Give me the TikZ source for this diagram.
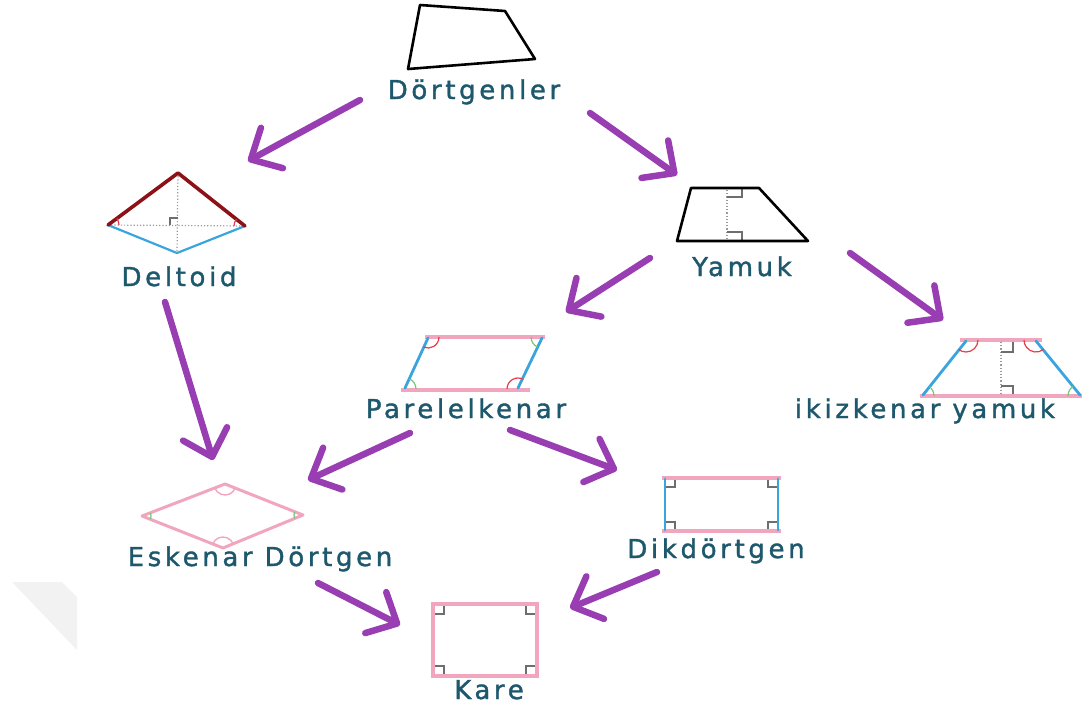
\documentclass[tikz,border=0pt]{standalone}
\usepackage{fontspec}
\newfontfamily\labfont[LetterSpace=14,FakeBold=1.4]{DejaVu Sans}
\usetikzlibrary{arrows.meta}
\definecolor{txt}{RGB}{30,88,108}
\definecolor{arr}{RGB}{152,62,178}
\definecolor{pinkl}{RGB}{242,166,190}
\definecolor{bluel}{RGB}{58,164,222}
\definecolor{dred}{RGB}{140,18,24}
\definecolor{greenl}{RGB}{120,196,120}
\definecolor{redarc}{RGB}{228,60,72}
\definecolor{markg}{RGB}{110,110,110}
\tikzset{
  lab/.style={font=\labfont\fontsize{26}{29}\selectfont, text=txt, anchor=base, inner sep=0pt},
  flow/.style={draw=arr, line width=6.5pt, line cap=round, line join=round,
    -{Straight Barb[length=24pt,width=46pt,line cap=round,line join=round]}},
  blk/.style={draw=black, line width=2.6pt, line join=round},
  pinkedge/.style={draw=pinkl, line width=3.8pt},
  blueedge/.style={draw=bluel, line width=2.8pt, line cap=round},
  dots/.style={draw=gray!80, line width=1.2pt, dotted},
  rmark/.style={draw=markg, line width=1.1pt},
  arcr/.style={draw=redarc, line width=1.2pt},
  arcg/.style={draw=greenl, line width=1.2pt},
}
\begin{document}
\begin{tikzpicture}[x=1pt,y=-1pt]
\useasboundingbox (0,0) rectangle (1089,713);
% faint corner mark
\fill[gray!10] (12,582) -- (62,582) -- (77,597) -- (77,650) -- cycle;

% ---- Dortgenler
\draw[blk] (420,5) -- (505,11) -- (535,59) -- (408,69) -- cycle;
\node[lab] (dortgenler) at (474,99) {Dörtgenler};

% ---- Deltoid
\draw[dots] (178,173) -- (177,253);
\draw[dots] (108,225) -- (245,226);
\draw[rmark] (170,225) -- (170,218) -- (178,218);
\draw[draw=bluel, line width=2.2pt, line join=round] (108,225) -- (177,253) -- (245,226);
\draw[draw=dred, line width=3.6pt, line cap=round, line join=round] (108,225) -- (178,173) -- (245,226);
\draw[arcr] (108,225) ++(-36.6:11) arc[start angle=-36.6, end angle=0, radius=11];
\draw[arcr] (245,226) ++(180:11) arc[start angle=180, end angle=218.4, radius=11];
\node[lab] (deltoid) at (179,286) {Deltoid};

% ---- Yamuk
\draw[dots] (727,190) -- (727,240);
\draw[rmark] (727,197) -- (742,197) -- (742,188);
\draw[rmark] (727,232) -- (742,232) -- (742,241);
\draw[blk] (691,188) -- (759,188) -- (808,241) -- (677,241) -- cycle;
\node[lab] (yamuk) at (742,276) {Yamuk};

% ---- Parelelkenar
\draw[pinkedge] (425,337) -- (545,337);
\draw[pinkedge] (401,390) -- (530,390);
\draw[blueedge] (428,338) -- (405,388);
\draw[blueedge] (542,338) -- (518,388);
\draw[arcr] (428,337) ++(0:11) arc[start angle=0, end angle=113.9, radius=11];
\draw[arcg] (542,337) ++(114.8:11) arc[start angle=114.8, end angle=180, radius=11];
\draw[arcr] (518,389) ++(180:11) arc[start angle=180, end angle=294.8, radius=11];
\draw[arcg] (405,389) ++(-66.1:11) arc[start angle=-66.1, end angle=0, radius=11];
\node[lab] (parelelkenar) at (466,418) {Parelelkenar};

% ---- ikizkenar yamuk
\draw[dots] (1001,342) -- (1001,394);
\draw[rmark] (1001,352) -- (1013,352) -- (1013,340);
\draw[rmark] (1001,386) -- (1013,386) -- (1013,396);
\draw[pinkedge] (960,340) -- (1042,340);
\draw[pinkedge] (920,396) -- (1082,396);
\draw[blueedge] (966,341) -- (923,395);
\draw[blueedge] (1036,341) -- (1080,395);
\draw[arcr] (966,340) ++(0:12) arc[start angle=0, end angle=128.2, radius=12];
\draw[arcr] (1036,340) ++(51.8:12) arc[start angle=51.8, end angle=180, radius=12];
\draw[arcg] (922,396) ++(-51.8:12) arc[start angle=-51.8, end angle=0, radius=12];
\draw[arcg] (1080,396) ++(180:12) arc[start angle=180, end angle=231.8, radius=12];
\node[lab] (ikizkenar) at (925,418) {ikizkenar yamuk};

% ---- Eskenar Dortgen
\draw[draw=pinkl, line width=3pt, line join=round] (225,484) -- (303,515) -- (223,548) -- (142,516) -- cycle;
\draw[draw=pinkl, line width=1.4pt] (225,484) ++(21.7:11) arc[start angle=21.7, end angle=158.9, radius=11];
\draw[draw=pinkl, line width=1.4pt] (223,548) ++(201.6:11) arc[start angle=201.6, end angle=337.6, radius=11];
\draw[arcg] (142,516) ++(-21.1:9) arc[start angle=-21.1, end angle=21.6, radius=9];
\draw[arcg] (303,515) ++(157.6:9) arc[start angle=157.6, end angle=201.7, radius=9];
\node[lab] (eskenar) at (260,566) {Eskenar Dörtgen};

% ---- Dikdortgen
\draw[rmark] (665,487) -- (675,487) -- (675,478);
\draw[rmark] (778,487) -- (768,487) -- (768,478);
\draw[rmark] (665,522) -- (675,522) -- (675,531);
\draw[rmark] (778,522) -- (768,522) -- (768,531);
\draw[pinkedge] (662,478) -- (781,478);
\draw[pinkedge] (662,531) -- (781,531);
\draw[blueedge] (665,479) -- (665,530);
\draw[blueedge] (778,479) -- (778,530);
\node[lab] (dikdortgen) at (716,558) {Dikdörtgen};

% ---- Kare
\draw[rmark] (433,614) -- (444,614) -- (444,604);
\draw[rmark] (537,614) -- (526,614) -- (526,604);
\draw[rmark] (433,666) -- (444,666) -- (444,676);
\draw[rmark] (537,666) -- (526,666) -- (526,676);
\draw[draw=pinkl, line width=4pt] (433,604) rectangle (537,676);
\node[lab] (kare) at (489,699) {Kare};

% ---- arrows
\coordinate (a1s) at (360,100); \coordinate (a1e) at (248,161);
\coordinate (a2s) at (590,113); \coordinate (a2e) at (677,175);
\coordinate (a3s) at (165,302); \coordinate (a3e) at (213,460);
\coordinate (a4s) at (650,258); \coordinate (a4e) at (566,312);
\coordinate (a5s) at (850,253); \coordinate (a5e) at (943,320);
\coordinate (a6s) at (410,433); \coordinate (a6e) at (308,480);
\coordinate (a7s) at (510,430); \coordinate (a7e) at (617,470);
\coordinate (a8s) at (318,583); \coordinate (a8e) at (400,625);
\coordinate (a9s) at (657,572); \coordinate (a9e) at (570,608);
\foreach \s/\e in {a1s/a1e,a2s/a2e,a3s/a3e,a4s/a4e,a5s/a5e,a6s/a6e,a7s/a7e,a8s/a8e,a9s/a9e}
  \draw[flow] (\s) -- (\e);
\end{tikzpicture}
\end{document}
